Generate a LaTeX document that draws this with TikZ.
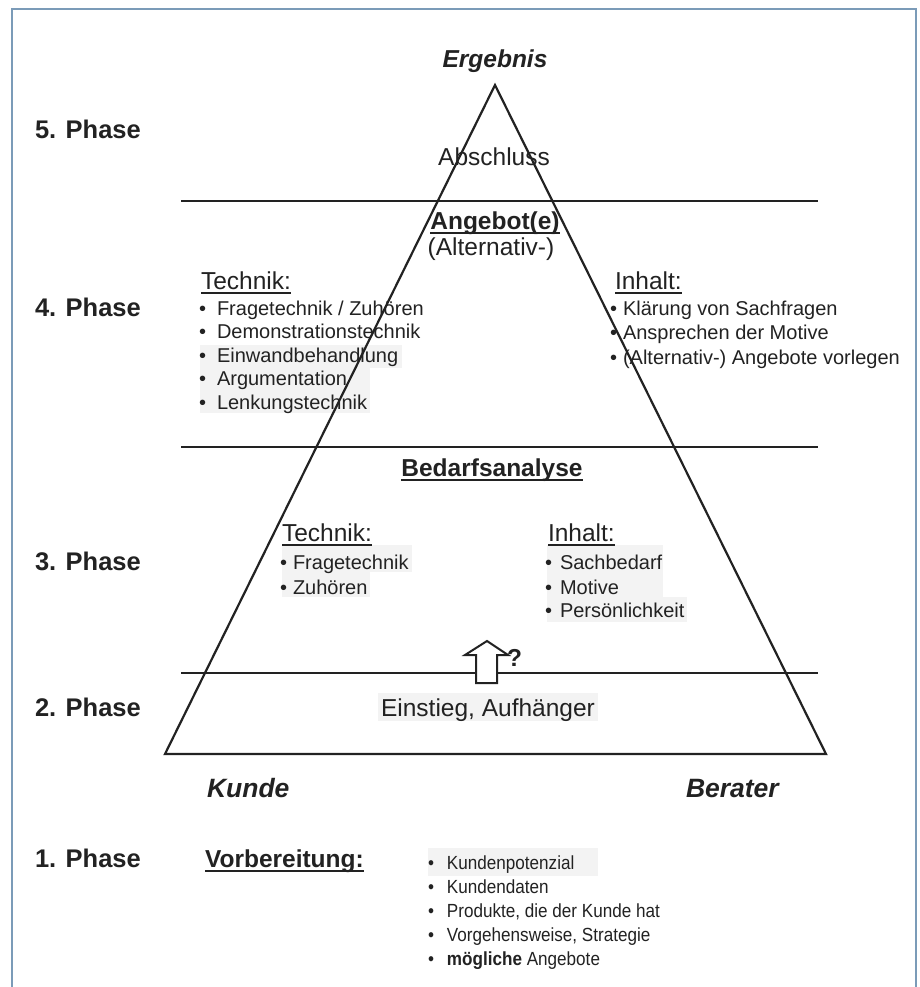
\documentclass[tikz,border=0pt]{standalone}
\usepackage{fontspec}
\setmainfont{Liberation Sans}
\newfontfamily\narrowfont{Liberation Sans}[FakeStretch=0.9]
\definecolor{ink}{HTML}{222222}
\definecolor{framec}{HTML}{7B9BB8}
\definecolor{hl}{HTML}{F3F3F3}
\newcommand\fbig{\fontsize{24.5bp}{29bp}\selectfont}
\newcommand\fphase{\fontsize{25.5bp}{29bp}\selectfont}
\newcommand\flab{\fontsize{26.5bp}{30bp}\selectfont}
\newcommand\fmed{\fontsize{20bp}{24bp}\selectfont}
\newcommand\fsml{\narrowfont\fontsize{19bp}{24bp}\selectfont}
\tikzset{
  txt/.style={inner sep=0pt, outer sep=0pt, text=ink, anchor=base west},
  ctxt/.style={inner sep=0pt, outer sep=0pt, text=ink, anchor=base},
  big/.style={font=\fbig},
  med/.style={font=\fmed},
  sml/.style={font=\fsml},
  phase/.style={txt, font=\fphase\bfseries},
  ul/.style={draw=ink, line width=1.6bp},
  tri/.style={draw=ink, line width=2.2bp, line join=miter},
  hline/.style={draw=ink, line width=2bp},
  frame/.style={draw=framec, line width=2bp},
  hlbox/.style={fill=hl, draw=none}
}
\begin{document}
\begin{tikzpicture}[x=1bp, y=-1bp]
\useasboundingbox (0,0) rectangle (920,987);
\fill[white] (0,0) rectangle (920,987);
\draw[frame] (12,987) -- (12,9) -- (916,9) -- (916,987);

% faint highlight patches
\fill[hlbox] (200,345) rectangle (402,368);
\fill[hlbox] (200,368) rectangle (370,413);
\fill[hlbox] (282,545) rectangle (412,572);
\fill[hlbox] (282,572) rectangle (370,597);
\fill[hlbox] (547,545) rectangle (663,597);
\fill[hlbox] (547,597) rectangle (687,622);
\fill[hlbox] (378,693) rectangle (598,721);
\fill[hlbox] (428,848) rectangle (598,876);

% triangle and phase lines
\coordinate (apex) at (495,85);
\coordinate (bl) at (165,754);
\coordinate (br) at (826,754);
\draw[tri] (apex) -- (bl) -- (br) -- cycle;
\coordinate (l5a) at (181,201); \coordinate (l5b) at (818,201);
\coordinate (l4a) at (181,447); \coordinate (l4b) at (818,447);
\coordinate (l2a) at (181,673); \coordinate (l2b) at (818,673);
\draw[hline] (l5a) -- (l5b);
\draw[hline] (l4a) -- (l4b);
\draw[hline] (l2a) -- (l2b);

% block arrow
\draw[draw=ink, fill=white, line width=2bp, line join=miter]
  (476,683) -- (476,655) -- (465,655) -- (487,641) -- (508,655) -- (497,655) -- (497,683) -- cycle;
\node[txt, font=\fbig\bfseries] (q) at (507,666) {?};

% top
\node[ctxt, font=\fbig\bfseries\itshape] (erg) at (495,67) {Ergebnis};
\node[phase] (p5) at (35,138) {5. Phase};
\node[ctxt, big] (abs) at (494,165) {Abschluss};

% phase 4
\node[ctxt, font=\fbig\bfseries] (ang) at (495,229) {Angebot(e)};
\draw[ul] ([yshift=-4bp]ang.base west) -- ([yshift=-4bp]ang.base east);
\node[ctxt, big] (alt) at (491,255) {(Alternativ-)};
\node[phase] (p4) at (35,316) {4. Phase};
\node[txt, big] (tech4) at (201,289) {Technik:};
\draw[ul] ([yshift=-4bp]tech4.base west) -- ([yshift=-4bp]tech4.base east);
\node[txt, big] (inh4) at (615,289) {Inhalt:};
\draw[ul] ([yshift=-4bp]inh4.base west) -- ([yshift=-4bp]inh4.base east);
\node[txt, med] (t4a) at (199,315) {\textbullet\hspace{11bp}Fragetechnik / Zuhören};
\node[txt, med] (t4b) at (199,338.5) {\textbullet\hspace{11bp}Demonstrationstechnik};
\node[txt, med] (t4c) at (199,362) {\textbullet\hspace{11bp}Einwandbehandlung};
\node[txt, med] (t4d) at (199,385.5) {\textbullet\hspace{11bp}Argumentation};
\node[txt, med] (t4e) at (199,409) {\textbullet\hspace{11bp}Lenkungstechnik};
\node[txt, med] (i4a) at (610,315) {\textbullet\hspace{6bp}Klärung von Sachfragen};
\node[txt, med] (i4b) at (610,339.5) {\textbullet\hspace{6bp}Ansprechen der Motive};
\node[txt, med] (i4c) at (610,364) {\textbullet\hspace{6bp}(Alternativ-) Angebote vorlegen};

% phase 3
\node[ctxt, font=\fbig\bfseries] (bed) at (492,476) {Bedarfsanalyse};
\draw[ul] ([yshift=-4bp]bed.base west) -- ([yshift=-4bp]bed.base east);
\node[phase] (p3) at (35,570) {3. Phase};
\node[txt, big] (tech3) at (282,541) {Technik:};
\draw[ul] ([yshift=-4bp]tech3.base west) -- ([yshift=-4bp]tech3.base east);
\node[txt, big] (inh3) at (548,541) {Inhalt:};
\draw[ul] ([yshift=-4bp]inh3.base west) -- ([yshift=-4bp]inh3.base east);
\node[txt, med] (t3a) at (280,569) {\textbullet\hspace{6bp}Fragetechnik};
\node[txt, med] (t3b) at (280,594) {\textbullet\hspace{6bp}Zuhören};
\node[txt, med] (i3a) at (545,569) {\textbullet\hspace{8bp}Sachbedarf};
\node[txt, med] (i3b) at (545,594) {\textbullet\hspace{8bp}Motive};
\node[txt, med] (i3c) at (545,617) {\textbullet\hspace{8bp}Persönlichkeit};

% phase 2
\node[phase] (p2) at (35,716) {2. Phase};
\node[ctxt, big] (ein) at (488,716) {Einstieg, Aufhänger};

% bottom labels
\node[txt, font=\flab\bfseries\itshape] (kunde) at (207,797) {Kunde};
\node[txt, font=\flab\bfseries\itshape] (berater) at (686,797) {Berater};

% phase 1
\node[phase] (p1) at (35,867) {1. Phase};
\node[txt, font=\fbig\bfseries] (vor) at (205,867) {Vorbereitung:};
\draw[ul] ([yshift=-4bp]vor.base west) -- ([yshift=-4bp]vor.base east);
\node[txt, sml] (v1) at (428,869) {\textbullet\hspace{13bp}Kundenpotenzial};
\node[txt, sml] (v2) at (428,893) {\textbullet\hspace{13bp}Kundendaten};
\node[txt, sml] (v3) at (428,917) {\textbullet\hspace{13bp}Produkte, die der Kunde hat};
\node[txt, sml] (v4) at (428,941) {\textbullet\hspace{13bp}Vorgehensweise, Strategie};
\node[txt, sml] (v5) at (428,965) {\textbullet\hspace{13bp}\textbf{mögliche} Angebote};
\end{tikzpicture}
\end{document}
